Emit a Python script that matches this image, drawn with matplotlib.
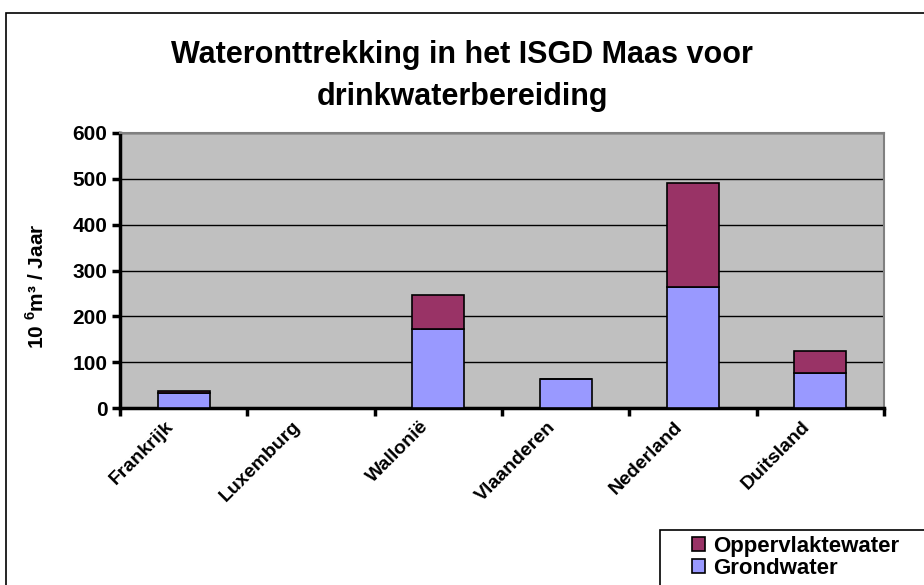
import matplotlib

matplotlib.use("Agg")
import matplotlib.pyplot as plt
from matplotlib.patches import Rectangle
from matplotlib.transforms import ScaledTranslation

regions = ["Frankrijk", "Luxemburg", "Wallonië", "Vlaanderen", "Nederland", "Duitsland"]
grondwater = [32, 0, 172, 64, 263, 76]
oppervlaktewater = [5, 0, 75, 0, 228, 49]

plt.rcParams["font.family"] = ["Liberation Sans", "DejaVu Sans"]
plt.rcParams["font.weight"] = "bold"
plt.rcParams["mathtext.fontset"] = "custom"
plt.rcParams["mathtext.rm"] = "Liberation Sans:bold"
plt.rcParams["mathtext.bf"] = "Liberation Sans:bold"

fig = plt.figure(figsize=(9.24, 5.85), dpi=100)
# outer chart border (runs off the right and bottom edges)
fig.patches.append(Rectangle((6 / 924, -0.01), 1.0, 1 - 13 / 585 + 0.01,
                             transform=fig.transFigure, fill=False,
                             edgecolor="black", lw=1.2))

ax = fig.add_axes([120 / 924, 1 - 408 / 585, 764 / 924, 275 / 585])
ax.set_facecolor("#C0C0C0")
x = range(len(regions))
ax.bar(x, grondwater, width=0.41, color="#9999FF", edgecolor="black", lw=1.2,
       label="Grondwater", zorder=3)
ax.bar(x, oppervlaktewater, width=0.41, bottom=grondwater, color="#993366",
       edgecolor="black", lw=1.2, label="Oppervlaktewater", zorder=3)

ax.set_xlim(-0.5, len(regions) - 0.5)
ax.set_ylim(0, 600)
ax.set_yticks(range(0, 601, 100))
ax.yaxis.grid(True, color="black", lw=1)
ax.set_axisbelow(True)
ax.tick_params(axis="y", labelsize=15, width=2.5, length=6, pad=3)
# category boundaries get the tick marks, labels sit at the centres
ax.set_xticks([i + 0.5 for i in range(-1, len(regions))])
ax.set_xticklabels([])
ax.tick_params(axis="x", which="major", width=2.5, length=6)
ax.set_xticks(list(x), minor=True)
ax.set_xticklabels(regions, minor=True, rotation=45, ha="right",
                   rotation_mode="anchor", fontsize=14)
ax.tick_params(axis="x", which="minor", length=0, pad=3)
shift = ScaledTranslation(-0.19, -0.06, fig.dpi_scale_trans)
for lbl in ax.get_xticklabels(minor=True):
    lbl.set_transform(lbl.get_transform() + shift)
for s in ["top", "right"]:
    ax.spines[s].set_color("#808080")
    ax.spines[s].set_linewidth(1.5)
ax.spines["left"].set_linewidth(2.5)
ax.spines["bottom"].set_linewidth(2.5)
ax.set_ylabel("10 $^6$m³ / Jaar", fontsize=15, fontweight="bold")
ax.yaxis.set_label_coords(-0.095, 0.444)

fig.text(0.5, 1 - 55 / 585, "Wateronttrekking in het ISGD Maas voor",
         ha="center", va="center", fontsize=22, fontweight="bold")
fig.text(0.5, 1 - 97 / 585, "drinkwaterbereiding",
         ha="center", va="center", fontsize=22, fontweight="bold")

# legend box, also cut off by the figure edge
fig.patches.append(Rectangle((660 / 924, -0.01), 0.5, 1 - 530 / 585 + 0.01,
                             transform=fig.transFigure, fill=False,
                             edgecolor="black", lw=1.2))
h, l = ax.get_legend_handles_labels()
fig.legend(h[::-1], l[::-1], loc="upper left",
           bbox_to_anchor=(692 / 924, 1 - 536 / 585), fontsize=16,
           frameon=False, handlelength=0.6, handleheight=0.6,
           handletextpad=0.35, labelspacing=0.05, borderpad=0, borderaxespad=0)

fig.savefig("out.png", dpi=100)
